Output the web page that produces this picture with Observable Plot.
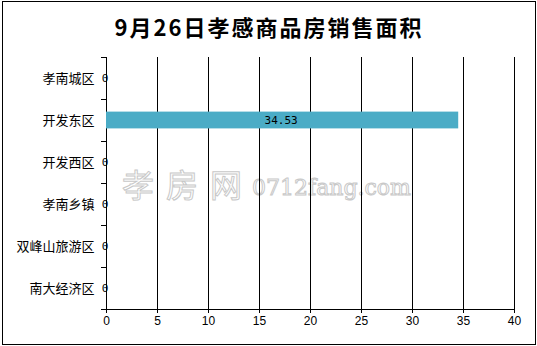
<!DOCTYPE html>
<html>
<head>
<meta charset="utf-8">
<script src="https://cdn.jsdelivr.net/npm/d3@7"></script>
<script src="https://cdn.jsdelivr.net/npm/@observablehq/plot@0.6"></script>
<style>
  html, body { margin: 0; padding: 0; background: #fff; }
</style>
</head>
<body>
<div id="chart"></div>
<script>
const title = "9月26日孝感商品房销售面积";
const categories = ["孝南城区", "开发东区", "开发西区", "孝南乡镇", "双峰山旅游区", "南大经济区"];
const values = [0, 34.53, 0, 0, 0, 0];
const xTicks = [0, 5, 10, 15, 20, 25, 30, 35, 40];
const watermarkBig = "孝房网";
const watermarkSmall = "0712fang.com";

const data = categories.map((c, i) => ({c, v: values[i], i}));
const bounds = d3.range(categories.length + 1);
const centers = categories.map((_, i) => i + 0.5);

const chart = Plot.plot({
  width: 537,
  height: 346,
  marginTop: 57,
  marginBottom: 37,
  marginLeft: 106,
  marginRight: 23,
  style: {fontFamily: "'Noto Sans CJK SC', sans-serif", fontSize: "12px", color: "#000", background: "#fff", overflow: "visible"},
  x: {domain: [0, 40]},
  y: {domain: [0, categories.length], reverse: true},
  marks: [
    Plot.ruleX(xTicks, {stroke: "#000", strokeOpacity: 1, strokeWidth: 1}),
    Plot.ruleY([categories.length], {stroke: "#000", strokeOpacity: 1}),
    Plot.rect(data, {x1: 0, x2: "v", y1: d => d.i + 0.3, y2: d => d.i + 0.7, fill: "#4BACC6"}),
    Plot.text(data, {x: d => d.v / 2, y: d => d.i + 0.5, text: d => String(d.v), dx: -1.5, fontFamily: "DejaVu Sans Mono", fontSize: 11, fill: "#000"}),
    Plot.axisX(xTicks, {tickSize: 4, tickPadding: 3, label: null, fontFamily: "Liberation Sans", fontSize: 12, stroke: "#000"}),
    Plot.axisY(bounds, {tickSize: 5, tickFormat: () => "", label: null, stroke: "#000"}),
    Plot.axisY(centers, {tickSize: 0, tickPadding: 12, tickFormat: d => categories[Math.floor(d)], label: null, fontSize: 13})
  ]
});

const svg = d3.select(chart);
// watermark (decorative), beneath marks
const wm = svg.insert("g", ":first-child").attr("fill", "none").attr("stroke", "#c8c8c8").attr("stroke-width", 1).attr("text-anchor", "start");
wm.append("text").attr("x", 122).attr("y", 197).attr("font-size", 32).attr("letter-spacing", "12px")
  .attr("font-family", "'Noto Sans CJK SC', sans-serif").text(watermarkBig);
wm.append("text").attr("x", 252).attr("y", 195).attr("font-size", 22)
  .attr("font-family", "'DejaVu Serif', serif").text(watermarkSmall);
// title
svg.append("text").attr("x", 269).attr("y", 36).attr("text-anchor", "middle")
  .attr("font-size", 22).attr("font-weight", "bold").attr("letter-spacing", "2px")
  .attr("font-family", "'Noto Sans CJK SC', sans-serif").attr("fill", "#000").text(title);
// outer border
svg.append("rect").attr("x", 2.5).attr("y", 1.5).attr("width", 533).attr("height", 343)
  .attr("fill", "none").attr("stroke", "#000").attr("stroke-width", 1);

document.getElementById("chart").appendChild(chart);
</script>
</body>
</html>
